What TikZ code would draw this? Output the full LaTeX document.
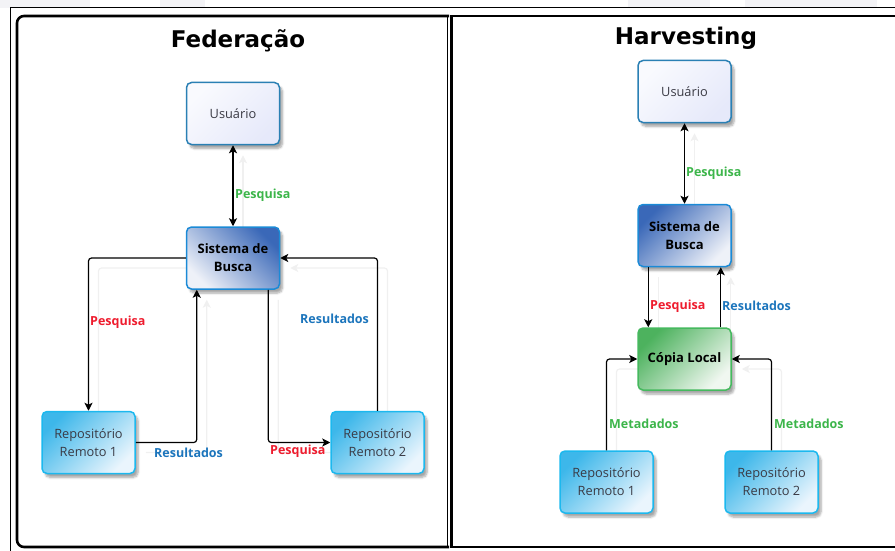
\documentclass[tikz,border=0pt]{standalone}
\usepackage{fontspec}
\setmainfont{Open Sans}
\newfontfamily\titlefont{DejaVu Sans}
\usetikzlibrary{arrows.meta,shadows.blur,backgrounds}

\definecolor{txtgrey}{HTML}{3A3A44}
\definecolor{userline}{HTML}{2A80B4}
\definecolor{userfill}{HTML}{E6E9FA}
\definecolor{userlight}{HTML}{F9FAFE}
\definecolor{searchline}{HTML}{1B8AD6}
\definecolor{searchdark}{HTML}{3A68B8}
\definecolor{searchlight}{HTML}{EEF1F8}
\definecolor{repoline}{HTML}{1CB8EE}
\definecolor{repodark}{HTML}{3DB7EA}
\definecolor{repolight}{HTML}{EAF5FD}
\definecolor{copyline}{HTML}{45B95E}
\definecolor{copydark}{HTML}{4DB25E}
\definecolor{copylight}{HTML}{F0F7F0}
\definecolor{lblgreen}{HTML}{3CB54A}
\definecolor{lblred}{HTML}{EE1C2E}
\definecolor{lblblue}{HTML}{1C75BC}
\definecolor{bgblock}{HTML}{F3F3F6}

\newcommand\drawlinks[1]{%
  % Federação
  \draw[#1,<->] (uL) -- (sL);
  \draw[#1,->] (sL.west) -| (r1L.north);
  \draw[#1,->] (r1L.east) -| ([xshift=11pt]sL.south west);
  \draw[#1,->] ([xshift=-12pt]sL.south east) |- (r2L.west);
  \draw[#1,->] (r2L.north) |- (sL.east);
  % Harvesting
  \draw[#1,<->] (uR) -- (sR);
  \draw[#1,->] ([xshift=11pt]sR.south west) -- ([xshift=11pt]cR.north west);
  \draw[#1,->] ([xshift=-11pt]cR.north east) -- ([xshift=-11pt]sR.south east);
  \draw[#1,->] (r1R.north) |- (cR.west);
  \draw[#1,->] (r2R.north) |- (cR.east);
}

\begin{document}
\begin{tikzpicture}[x=1pt,y=-1pt,
  >={Stealth[length=8pt,width=8pt,inset=2pt]},
  box/.style={draw, rounded corners=5pt, line width=1.5pt,
    minimum width=93pt, minimum height=62pt, inner sep=0pt, align=center,
    font=\fontsize{12.8pt}{18pt}\selectfont, text=txtgrey,
    blur shadow={shadow xshift=3pt, shadow yshift=-4pt, shadow blur steps=6,
      shadow opacity=35, shadow blur extra rounding=2pt}},
  userbox/.style={box, draw=userline, left color=userlight, right color=userfill, shading angle=45},
  searchbox/.style={box, draw=searchline, right color=searchlight, left color=searchdark,
    text=black, font=\bfseries\fontsize{13pt}{18pt}\selectfont},
  repobox/.style={box, draw=repoline, left color=repodark, right color=repolight, shading angle=45},
  copybox/.style={box, draw=copyline, left color=copydark, right color=copylight, shading angle=45,
    text=black, font=\bfseries\fontsize{13pt}{18pt}\selectfont},
  link/.style={draw=black, line width=1.2pt, rounded corners=3pt},
  ghost/.style={draw=black!6, line width=1.2pt, rounded corners=3pt},
  lbl/.style={inner sep=0pt, anchor=west, font=\bfseries\fontsize{12.5pt}{15pt}\selectfont},
  paneltitle/.style={inner sep=0pt, font=\titlefont\bfseries\fontsize{23pt}{26pt}\selectfont}
]
\useasboundingbox (0,0) rectangle (895,551);

% faint blocks along the top edge
\fill[bgblock] (0,0) rectangle (90,8);
\fill[bgblock] (160,0) rectangle (205,8);
\fill[bgblock] (628,0) rectangle (710,8);
\fill[bgblock] (745,0) rectangle (877,8);

% frames
\draw[line width=1pt] (10,551) -- (10,8) -- (895,8);
\draw[line width=2.6pt, rounded corners=7pt] (449,16) -- (17,16) -- (17,547) -- (449,547);
\draw[line width=0.8pt] (447.5,16) -- (447.5,547);
\draw[line width=2.6pt] (896,16) -- (451.5,16) -- (451.5,547) -- (896,547);

% titles
\node[paneltitle] (tL) at (238,41) {Federação};
\node[paneltitle] (tR) at (686,38) {Harvesting};

% Federação boxes
\node[userbox] (uL) at (233,113.5) {Usuário};
\node[searchbox, shading angle=-45] (sL) at (233,258) {Sistema de\\Busca};
\node[repobox] (r1L) at (88.5,442.5) {Repositório\\Remoto 1};
\node[repobox] (r2L) at (377.5,442.5) {Repositório\\Remoto 2};

% Harvesting boxes
\node[userbox] (uR) at (684.5,91.5) {Usuário};
\node[searchbox, shading angle=45] (sR) at (684.5,235.5) {Sistema de\\Busca};
\node[copybox] (cR) at (684.5,359) {Cópia Local};
\node[repobox] (r1R) at (606.5,482) {Repositório\\Remoto 1};
\node[repobox] (r2R) at (771.5,482) {Repositório\\Remoto 2};

% connector shadows
\begin{scope}[on background layer]
  \begin{scope}[transform canvas={xshift=10pt,yshift=-10pt}]
    \drawlinks{ghost}
  \end{scope}
\end{scope}

% connectors
\drawlinks{link}

% connector labels
\node[lbl, text=lblgreen] (l1) at (235,195) {Pesquisa};
\node[lbl, text=lblred]   (l2) at (90,322) {Pesquisa};
\node[lbl, text=lblblue]  (l3) at (154,453) {Resultados};
\node[lbl, text=lblred]   (l4) at (270,451) {Pesquisa};
\node[lbl, text=lblblue]  (l5) at (300,319) {Resultados};
\node[lbl, text=lblgreen] (l6) at (686,173) {Pesquisa};
\node[lbl, text=lblred]   (l7) at (650,306) {Pesquisa};
\node[lbl, text=lblblue]  (l8) at (722,306) {Resultados};
\node[lbl, text=lblgreen] (l9) at (609,424) {Metadados};
\node[lbl, text=lblgreen] (l10) at (774,424) {Metadados};
\end{tikzpicture}
\end{document}
